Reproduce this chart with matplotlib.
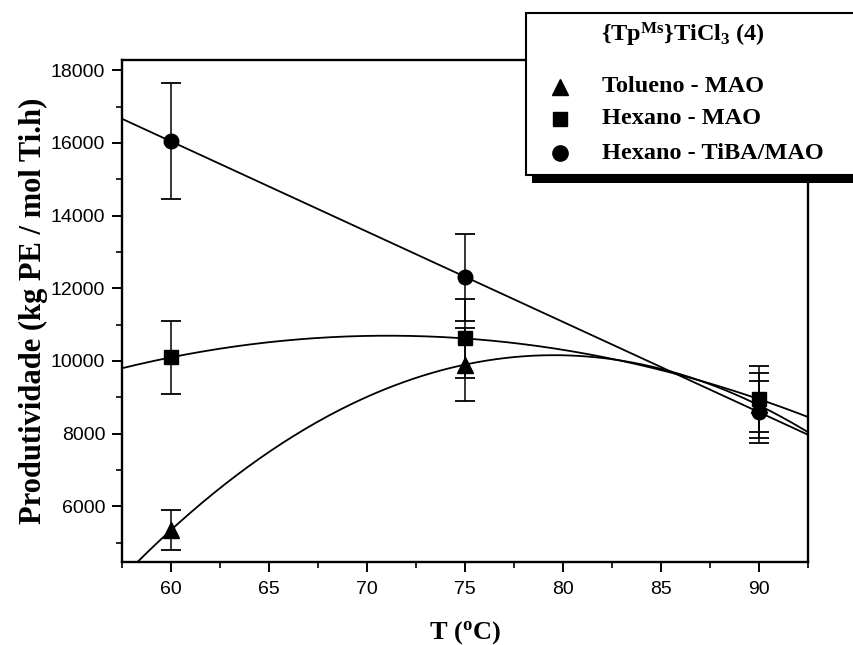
import numpy as np
import matplotlib
matplotlib.use("Agg")
import matplotlib.pyplot as plt
from matplotlib.patches import Rectangle
from matplotlib.lines import Line2D
from matplotlib.ticker import MultipleLocator

# dados
T = [60, 75, 90]
tolueno_mao = [5350, 9900, 8780]
tolueno_err = [550, 1000, 890]
hexano_mao = [10100, 10620, 8950]
hexano_err = [1000, 1080, 900]
hexano_tiba = [16050, 12300, 8600]
hexano_tiba_err = [1600, 1200, 860]

rotulos = ["Tolueno - MAO", "Hexano - MAO", "Hexano - TiBA/MAO"]
titulo_leg = r"{Tp$^{\mathrm{Ms}}$}TiCl$_{\mathrm{3}}$ (4)"

plt.rcParams['mathtext.fontset'] = 'custom'
plt.rcParams['mathtext.rm'] = 'Liberation Serif:bold'
plt.rcParams['mathtext.bf'] = 'Liberation Serif:bold'
plt.rcParams['mathtext.it'] = 'Liberation Serif:bold:italic'

W, H = 854, 645
fig = plt.figure(figsize=(W / 100, H / 100), dpi=100)
ax = fig.add_axes([122 / W, 1 - 562 / H, (808 - 122) / W, (562 - 60) / H])

xs = np.linspace(57.5, 92.5, 300)
series = [(tolueno_mao, tolueno_err, '^', 12, 2),
          (hexano_mao, hexano_err, 's', 10, 2),
          (hexano_tiba, hexano_tiba_err, 'o', 10.5, 1)]
for vals, err, mk, ms, grau in series:
    ax.plot(xs, np.polyval(np.polyfit(T, vals, grau), xs), color='k', lw=1.3)
    ax.errorbar(T, vals, yerr=err, fmt=mk, color='k', ms=ms, capsize=7.5,
                elinewidth=1.1, capthick=1.3, zorder=3)

ax.set_xlim(57.5, 92.5)
ax.set_ylim(4470, 18280)
ax.xaxis.set_major_locator(MultipleLocator(5))
ax.xaxis.set_minor_locator(MultipleLocator(2.5))
ax.yaxis.set_major_locator(MultipleLocator(2000))
ax.yaxis.set_minor_locator(MultipleLocator(1000))
ax.tick_params(which='major', direction='out', length=7.5, width=1.4, pad=4.5,
               labelsize=14)
ax.tick_params(axis='x', which='major', pad=6.5)
ax.tick_params(which='minor', direction='out', length=4, width=1.2)
for lab in ax.get_xticklabels() + ax.get_yticklabels():
    lab.set_family('Liberation Sans')
for s in ax.spines.values():
    s.set_linewidth(1.7)

ax.set_xlabel(r"T ($^{\mathrm{o}}$C)", family='Liberation Serif', weight='bold',
              fontsize=19, labelpad=15)
ax.set_ylabel("Produtividade (kg PE / mol Ti.h)", family='Liberation Serif',
              weight='bold', fontsize=22, labelpad=2)

# caixa da legenda com sombra (coordenadas em pixels da figura)
def px(x0, y0, x1, y1):
    return (x0 / W, 1 - y1 / H), (x1 - x0) / W, (y1 - y0) / H

xy, w, h = px(532, 20, 870, 183)
fig.patches.append(Rectangle(xy, w, h, transform=fig.transFigure,
                             facecolor='black', edgecolor='none', zorder=4))
xy, w, h = px(526, 13, 870, 175)
fig.patches.append(Rectangle(xy, w, h, transform=fig.transFigure,
                             facecolor='white', edgecolor='black', lw=1.5, zorder=4))

fonte = dict(family='Liberation Serif', weight='bold', size=17.5, zorder=6)
fig.text(683 / W, 1 - 35 / H, titulo_leg, ha='center', va='center', **fonte)
marcas = [('^', 12), ('s', 9.5), ('o', 11)]
linhas_y = [87, 119, 153]
for (m, s), rot, yy in zip(marcas, rotulos, linhas_y):
    fig.add_artist(Line2D([560 / W], [1 - yy / H], marker=m, ms=s, color='k',
                          ls='none', transform=fig.transFigure, zorder=6))
    fig.text(602 / W, 1 - yy / H, rot, ha='left', va='center', **fonte)

fig.savefig("out.png", dpi=100)
